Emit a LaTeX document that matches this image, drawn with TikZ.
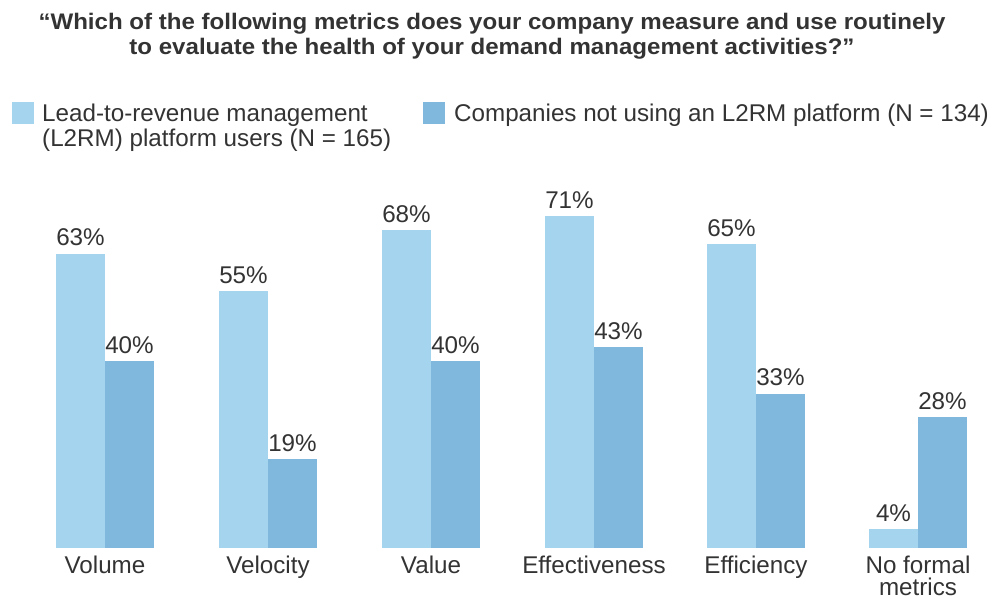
\documentclass[tikz,border=0pt]{standalone}
\usepackage{fontspec}
\setmainfont{Liberation Sans}
\definecolor{lightbar}{HTML}{A5D5EE}
\definecolor{darkbar}{HTML}{80B7DC}
\definecolor{txt}{HTML}{333333}
\begin{document}
\begin{tikzpicture}[x=1pt,y=-1pt,
  lbl/.style={text=txt,font=\fontsize{24.2}{25}\selectfont,inner sep=0pt},
  ttl/.style={text=txt,font=\fontsize{22.5}{25}\selectfont\bfseries,inner sep=0pt},
  lightfill/.style={fill=lightbar,draw=none},
  darkfill/.style={fill=darkbar,draw=none}]
\useasboundingbox (0,0) rectangle (994,599);
% title
\node[ttl,anchor=base] (t1) at (492,30) {\scalebox{1.07}[1]{“Which of the following metrics does your company measure and use routinely}};
\node[ttl,anchor=base] (t2) at (492,55) {\scalebox{1.07}[1]{to evaluate the health of your demand management activities?”}};
% legend
\fill[lightfill] (12,102) rectangle (34,124);
\node[lbl,anchor=base west] (l1a) at (42,122) {Lead-to-revenue management};
\node[lbl,anchor=base west] (l1b) at (42,147) {(L2RM) platform users (N = 165)};
\fill[darkfill] (423,102) rectangle (445,124);
\node[lbl,anchor=base west] (l2) at (454,122) {Companies not using an L2RM platform (N = 134)};
% bars
\def\base{548}
\def\ppp{4.67}
\foreach \x/\a/\b/\name [count=\i] in {56/63/40/Volume,219/55/19/Velocity,382/68/40/Value,545/71/43/Effectiveness,707/65/33/Efficiency}{
  \pgfmathsetmacro\ya{\base-\a*\ppp}
  \pgfmathsetmacro\yb{\base-\b*\ppp}
  \fill[lightfill] (\x,\base) rectangle (\x+49,\ya);
  \fill[darkfill] (\x+49,\base) rectangle (\x+98,\yb);
  \node[lbl,anchor=base] (pa\i) at (\x+24.5,\ya-8) {\a\%};
  \node[lbl,anchor=base] (pb\i) at (\x+73.5,\yb-8) {\b\%};
  \node[lbl,anchor=base] (c\i) at (\x+49,573) {\name};
}
\pgfmathsetmacro\ya{\base-4*\ppp}
\pgfmathsetmacro\yb{\base-28*\ppp}
\fill[lightfill] (869,\base) rectangle (918,\ya);
\fill[darkfill] (918,\base) rectangle (967,\yb);
\node[lbl,anchor=base] (pa6) at (893.5,\ya-8) {4\%};
\node[lbl,anchor=base] (pb6) at (942.5,\yb-8) {28\%};
\node[lbl,anchor=base] (c6a) at (918,573) {No formal};
\node[lbl,anchor=base] (c6b) at (918,595) {metrics};
\end{tikzpicture}
\end{document}
